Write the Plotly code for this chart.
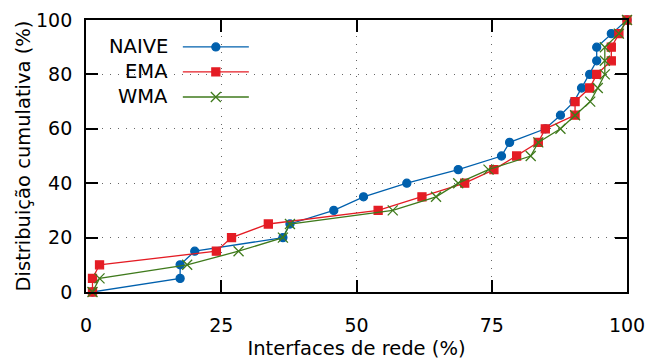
import plotly.graph_objects as go

# Cumulative distribution levels (%)
cdf_levels = [0, 5, 10, 15, 20, 25, 30, 35, 40, 45, 50,
              55, 60, 65, 70, 75, 80, 85, 90, 95, 100]

# Share of network interfaces (%) reaching each level, per predictor
naive_x = [1.2, 17.4, 17.4, 20.1, 36.4, 37.7, 45.8, 51.3, 59.3, 68.8, 76.8,
           78.3, 84.9, 87.7, 90.2, 91.6, 93.1, 94.4, 94.4, 97.1, 100]
ema_x = [1.2, 1.2, 2.5, 24.1, 26.9, 33.7, 54.0, 62.1, 70.0, 75.4, 79.6,
         83.6, 84.9, 90.4, 90.4, 93.1, 94.4, 97.1, 97.1, 98.5, 100]
wma_x = [1.2, 2.5, 18.7, 28.2, 36.4, 37.7, 56.7, 64.7, 68.8, 74.4, 82.2,
         83.6, 87.7, 90.4, 93.2, 94.6, 95.9, 95.9, 95.9, 98.5, 100]

series_names = ["NAIVE", "EMA", "WMA"]
x_ticks = [0, 25, 50, 75, 100]
y_ticks = [0, 20, 40, 60, 80, 100]

colors = {"NAIVE": "#0060ad", "EMA": "#e41c24", "WMA": "#3f7a1c"}
markers = {
    "NAIVE": dict(symbol="circle", size=8),
    "EMA": dict(symbol="square", size=8),
    "WMA": dict(symbol="x-thin", size=10),
}
FONT = "DejaVu Sans"

fig = go.Figure()
for name, xs in zip(series_names, [naive_x, ema_x, wma_x]):
    c = colors[name]
    m = dict(markers[name], color=c, line=dict(color=c, width=1.3))
    fig.add_trace(go.Scatter(x=xs, y=cdf_levels, mode="lines+markers", name=name,
                             line=dict(color=c, width=1.3), marker=m,
                             cliponaxis=False, showlegend=False))

# Key: label on the left, sample line with marker on the right
key_rows = [0.901, 0.809, 0.717]
for name, yk in zip(series_names, key_rows):
    c = colors[name]
    m = dict(markers[name], color=c, line=dict(color=c, width=1.3))
    fig.add_trace(go.Scatter(x=[0.179, 0.301], y=[yk, yk], mode="lines",
                             line=dict(color=c, width=1.3), xaxis="x2", yaxis="y2",
                             showlegend=False, hoverinfo="skip"))
    fig.add_trace(go.Scatter(x=[0.240], y=[yk], mode="markers", marker=m,
                             xaxis="x2", yaxis="y2", showlegend=False,
                             hoverinfo="skip"))
    fig.add_annotation(x=0.155, y=yk, xref="paper", yref="paper", text=name,
                       showarrow=False, xanchor="right", yanchor="middle",
                       font=dict(family=FONT, size=19.5, color="black"))

axis_common = dict(
    showline=True, linecolor="black", linewidth=1.8, mirror="ticks",
    ticks="inside", ticklen=12, tickwidth=1.5, tickcolor="black",
    showgrid=True, gridcolor="#666", gridwidth=1, griddash="1px,7px",
    zeroline=False, automargin=False,
    tickfont=dict(family=FONT, size=19, color="black"),
)

fig.update_layout(
    width=652, height=360,
    margin=dict(l=86, r=24.5, t=20, b=67.5),
    paper_bgcolor="white", plot_bgcolor="white",
    xaxis=dict(axis_common, range=[0, 100], tickvals=x_ticks,
               ticklabelstandoff=15,
               title=dict(text="Interfaces de rede (%)", standoff=9,
                          font=dict(family=FONT, size=19.5, color="black"))),
    yaxis=dict(axis_common, range=[0, 100], tickvals=y_ticks,
               ticklabelstandoff=8,
               title=dict(text="Distribuição cumulativa (%)", standoff=0,
                          font=dict(family=FONT, size=19.5, color="black"))),
    xaxis2=dict(overlaying="x", range=[0, 1], visible=False),
    yaxis2=dict(overlaying="y", range=[0, 1], visible=False),
)

fig.write_html("out.html")
